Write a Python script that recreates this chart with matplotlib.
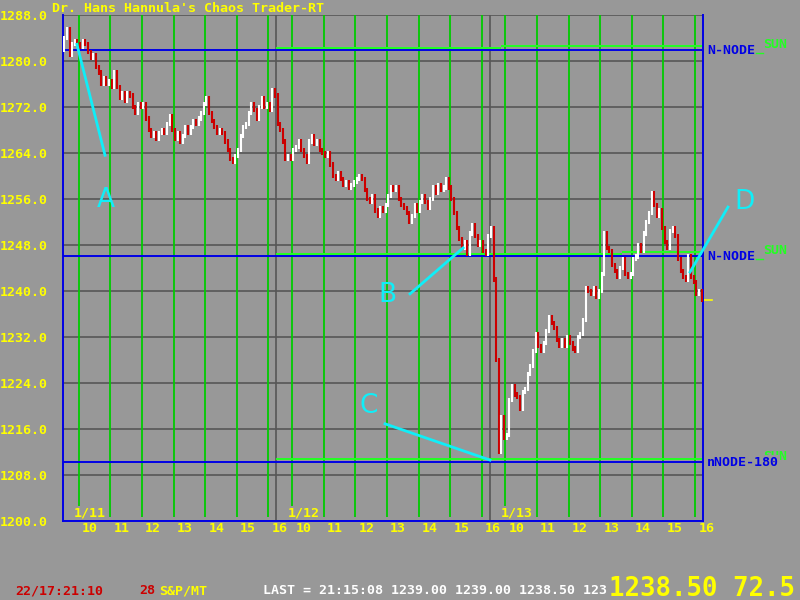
import matplotlib
matplotlib.use('Agg')
import matplotlib.pyplot as plt
from matplotlib.transforms import blended_transform_factory

# 5-minute closes, 9:30 - 16:15, three sessions
first_open = 1282.0
day1 = [1284, 1285.5, 1281, 1283, 1283.5, 1283, 1282.5, 1283.5, 1283, 1281.5,
        1280.5, 1281, 1279, 1278, 1276, 1277, 1276, 1276.5, 1275.5, 1278,
        1275.5, 1273.5, 1274.5, 1273, 1274.5, 1274, 1272, 1271, 1272.5, 1272,
        1272.5, 1270, 1268, 1267, 1267.5, 1266.5, 1267.5, 1268, 1267.5, 1269,
        1270.5, 1268, 1266.5, 1267.5, 1266, 1267, 1268.5, 1267.5, 1268.5, 1269.5,
        1269, 1270, 1271, 1272.5, 1273.5, 1271, 1269.5, 1268.5, 1267.5, 1268,
        1267.5, 1266, 1264.5, 1263, 1262.5, 1263.5, 1264.5, 1267, 1268.5, 1269,
        1271, 1272.5, 1271.5, 1270, 1272, 1273.5, 1272, 1272.5, 1271.5, 1275,
        1274]
day2 = [1269, 1268, 1266, 1263, 1263.5, 1263, 1264.5, 1265, 1266, 1264.5,
        1263.5, 1262.5, 1266, 1267, 1265.5, 1266, 1264.5, 1264, 1263.5, 1264,
        1262, 1260, 1259.5, 1260.5, 1259.5, 1258.5, 1259, 1258, 1258.5, 1259,
        1259.5, 1260, 1259.5, 1257.5, 1256, 1255.5, 1256.5, 1254, 1253, 1254.5,
        1254, 1255, 1256.5, 1258, 1257.5, 1258, 1256, 1255, 1254.5, 1253.5,
        1252, 1253, 1255, 1254, 1255.5, 1256.5, 1255.5, 1254.5, 1256, 1258,
        1257, 1258.5, 1257.5, 1258, 1259.5, 1258, 1256, 1253.5, 1251, 1249,
        1247.5, 1248.5, 1246.5, 1250, 1251.5, 1249.5, 1248, 1248.5, 1247, 1246.5,
        1249.5]
day3 = [1251, 1242, 1228, 1212, 1218, 1214.5, 1215, 1221, 1223.5, 1222,
        1221.5, 1219.5, 1222.5, 1223, 1225.5, 1227, 1229.5, 1232.5, 1230.5, 1229.5,
        1231, 1233, 1235.5, 1234.5, 1233.5, 1231.5, 1230.5, 1231.5, 1230.5, 1232,
        1231, 1230, 1229.5, 1232, 1232.5, 1235, 1240.5, 1240, 1239.5, 1240.5,
        1239, 1240, 1243, 1250, 1247.5, 1247, 1244.5, 1243.5, 1242.5, 1244,
        1245.5, 1243, 1242.5, 1243, 1245.5, 1246, 1248, 1247, 1250, 1252,
        1253.5, 1257, 1255, 1253, 1254, 1251, 1248.5, 1247.5, 1250.5, 1251,
        1249.5, 1245.5, 1243.5, 1242.5, 1242, 1246, 1242.5, 1241.5, 1239.5, 1240,
        1238.5]
days = [day1, day2, day3]
dates = ['1/11', '1/12', '1/13']
hours = [10, 11, 12, 13, 14, 15, 16]

node_levels = [1281.9, 1246.1, 1210.3]
node_names = ['N-NODE', 'N-NODE', 'nNODE-180']
# sun line segments: (level, start, end) in session hours
sun_segments = [(1282.2, 6.75, 11.3), (1282.3, 11.3, 13.85), (1282.6, 13.85, 20.25),
                (1246.5, 6.75, 17.7), (1246.8, 17.7, 20.25),
                (1210.7, 6.75, 20.25)]
yticks = [1200, 1208, 1216, 1224, 1232, 1240, 1248, 1256, 1264, 1272, 1280, 1288]

BG = '#989898'
YEL = '#ffff00'
RED = '#cc0000'
BLUE = '#0000e6'
GRN = '#00cc00'
LIME = '#22ff22'
DARK = '#575757'
CYAN = '#10eef8'
MONO = 'DejaVu Sans Mono'
DAYLEN = 6.75
WICK = 0.35  # bar range padding, points

fig = plt.figure(figsize=(8, 6), dpi=100, facecolor=BG)
ax = fig.add_axes([63 / 800, 79 / 600, 640 / 800, 506 / 600])
ax.set_facecolor(BG)
ax.set_xlim(0, 3 * DAYLEN)
ax.set_ylim(1200, 1288)

for s in ['left', 'bottom', 'right']:
    ax.spines[s].set_color(BLUE)
    ax.spines[s].set_linewidth(1.4)
ax.spines['top'].set_visible(False)

ax.set_yticks(yticks)
ax.set_yticklabels(['%.1f' % v for v in yticks], color=YEL, family=MONO,
                   weight='bold', fontsize=9.5)
ax.tick_params(axis='y', length=0, pad=11)
ax.set_xticks([])

for v in yticks:
    ax.axhline(v, color=DARK, lw=1.2, zorder=1)

xaxis_tr = ax.get_xaxis_transform()
for d in range(3):
    x0 = d * DAYLEN
    if d > 0:
        ax.axvline(x0, color=DARK, lw=1.2, zorder=1)
    for h in hours:
        xh = x0 + h - 9.5
        bottom = 1202.6 if h == 10 else 1200.7
        ax.vlines(xh, bottom, 1288, color=GRN, lw=1.3, zorder=1.5)
        ax.text(xh + 0.1, -0.014, str(h), transform=xaxis_tr, ha='left', va='center',
                color=YEL, family=MONO, weight='bold', fontsize=9.5, clip_on=False)
    ax.text(x0 + 0.35, 0.016, dates[d], transform=xaxis_tr, ha='left', va='center',
            color=YEL, family=MONO, weight='bold', fontsize=9.5)

# node and sun lines
for lv, a, b in sun_segments:
    ax.hlines(lv, a, b, color=LIME, lw=1.4, zorder=2)
for lv in node_levels:
    ax.axhline(lv, color=BLUE, lw=1.4, zorder=2.1)

# price bars: open = previous close
prev = first_open
for d, closes in enumerate(days):
    xs, lo, hi, cols = [], [], [], []
    for i, c in enumerate(closes):
        xs.append(d * DAYLEN + i / 12 + 0.04)
        lo.append(min(prev, c) - WICK)
        hi.append(max(prev, c) + WICK)
        cols.append('white' if c >= prev else RED)
        prev = c
    ax.vlines(xs, lo, hi, colors=cols, lw=1.5, zorder=3)

last = day3[-1]
ax.plot([3 * DAYLEN, 3 * DAYLEN + 0.28], [last, last], color=YEL, lw=1.2, clip_on=False)

# right side labels
right_tr = blended_transform_factory(fig.transFigure, ax.transData)
for lv, name in zip(node_levels, node_names):
    ax.text(763 / 800, lv + 0.9, 'SUN', transform=right_tr, color=LIME, family=MONO,
            weight='bold', fontsize=9.5, va='center', ha='left')
    if name == 'nNODE-180':
        ax.text(707 / 800, lv - 0.1, name, transform=right_tr, color=BLUE, family=MONO,
                weight='bold', fontsize=9.5, va='center', ha='left', zorder=5,
                bbox=dict(facecolor=BG, edgecolor='none', pad=0.5))
    else:
        ax.text(707 / 800, lv - 0.1, name, transform=right_tr, color=BLUE, family=MONO,
                weight='bold', fontsize=9.5, va='center', ha='left')
        ax.plot([756 / 800, 763 / 800], [lv - 0.5, lv - 0.5], transform=right_tr,
                color=LIME, lw=1, clip_on=False)

# cyan annotations
notes = [('A', (0.44, 1282.9), (1.33, 1263.6), (1.36, 1255.8)),
         ('B', (10.98, 1239.5), (12.66, 1247.5), (10.25, 1239.3)),
         ('C', (10.19, 1216.9), (13.51, 1210.6), (9.68, 1220.0)),
         ('D', (21.04, 1254.6), (19.84, 1243.3), (21.55, 1255.5))]
for letter, p0, p1, pt in notes:
    ax.plot([p0[0], p1[0]], [p0[1], p1[1]], color=CYAN, lw=2, clip_on=False, zorder=4)
    ax.text(pt[0], pt[1], letter, color=CYAN, fontsize=19, ha='center', va='center',
            family='DejaVu Sans', weight='normal', clip_on=False)

# title and status line
fig.text(52 / 800, 1 - 8 / 600, "Dr. Hans Hannula's Chaos Trader-RT", color=YEL,
         family=MONO, weight='bold', fontsize=9.6, va='center', ha='left')
sy = 1 - 591 / 600
fig.text(15 / 800, sy, '22/17:21:10', color=RED, family=MONO, weight='bold',
         fontsize=9.5, va='center')
fig.text(139 / 800, sy, '28', color=RED, family=MONO, weight='bold', fontsize=9.5,
         va='center')
fig.text(159 / 800, sy, 'S&P/MT', color=YEL, family=MONO, weight='bold', fontsize=9.5,
         va='center')
fig.text(263 / 800, sy, 'LAST = 21:15:08 1239.00 1239.00 1238.50 123', color='white',
         family=MONO, weight='bold', fontsize=9.5, va='center')
fig.text(609 / 800, 1 - 576 / 600, '1238.50 72.5', color=YEL, family=MONO,
         weight='bold', fontsize=18.5, va='top')

fig.savefig('out.png', dpi=100, facecolor=BG)
